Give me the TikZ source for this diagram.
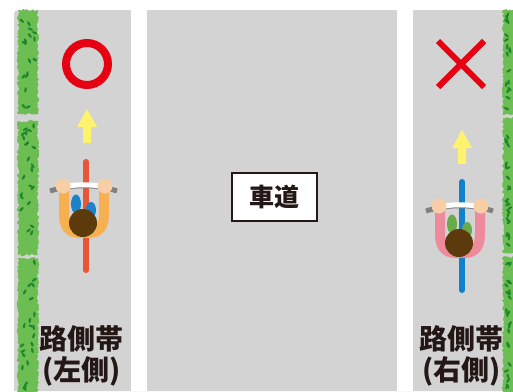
\documentclass[tikz,border=0pt]{standalone}
\usepackage{fontspec}
\newfontfamily\jpfont{Noto Sans CJK JP}
\usetikzlibrary{decorations.pathmorphing}

\definecolor{roadgray}{RGB}{211,211,211}
\definecolor{hedgegreen}{RGB}{108,190,82}
\definecolor{leafgreen}{RGB}{30,135,45}
\definecolor{okred}{RGB}{230,0,18}
\definecolor{arrowyellow}{RGB}{255,243,110}
\definecolor{skin}{RGB}{248,206,166}
\definecolor{hair}{RGB}{92,58,12}
\definecolor{gripgray}{RGB}{128,128,128}
\definecolor{frameorange}{RGB}{233,85,55}
\definecolor{shirtorange}{RGB}{246,176,80}
\definecolor{legblue}{RGB}{30,130,200}
\definecolor{frameblue}{RGB}{16,130,205}
\definecolor{shirtpink}{RGB}{237,138,155}
\definecolor{leggreen}{RGB}{105,170,75}
\definecolor{labelblack}{RGB}{35,24,21}

\begin{document}
\begin{tikzpicture}[x=1pt, y=-1pt,
  hedgebody/.style={fill=hedgegreen, decorate, decoration={random steps, segment length=1.8pt, amplitude=1.2pt}},
  leaf/.style={fill=leafgreen},
  stripe/.style={fill=white},
  goarrow/.style={fill=arrowyellow},
  sidelbl/.style={font=\jpfont\bfseries\fontsize{28}{31}\selectfont, text=labelblack, align=center, inner sep=0pt},
  roadlbl/.style={draw=labelblack, fill=white, line width=1.2pt, minimum width=85pt, minimum height=48pt, font=\jpfont\bfseries\fontsize{25}{30}\selectfont, text=labelblack},
  pics/rider/.style n args={3}{code={
    % frame, bar, legs, arms, head, hands
    \draw[#1, line width=6pt, line cap=round] (2,-26) -- (2,82);
    \draw[gripgray, line width=5pt] (-34,3) .. controls (-12,-4) and (12,-4) .. (33,3);
    \draw[white, line width=5pt] (-20,-1) .. controls (-8,-4) and (8,-4) .. (20,-1);
    \fill[#3] (-8,16) ellipse (5 and 9.5);
    \fill[#3] (7,22) ellipse (5 and 8);
    \draw[#2, line width=10pt, line cap=round] (-20,0) -- (-20,25) .. controls (-20,45) and (-10,45) .. (0,45) .. controls (10,45) and (20,45) .. (20,25) -- (20,0);
    \fill[hair] (-1,35) circle (14);
    \fill[skin] (-21,-2) circle (7.5);
    \fill[skin] (21,-2) circle (7.5);
  }},
]
\useasboundingbox (0,0) rectangle (513,391);

% road surface and white lines
\fill[roadgray] (14,391) [rounded corners=4pt] -- (14,10) [sharp corners] -- (513,10) -- (513,391) -- cycle;
\fill[stripe] (131,10) rectangle (147,391);
\fill[stripe] (397,10) rectangle (413,391);

% hedges
\pgfmathsetseed{12}
\foreach \xa/\xb/\ya/\yb in {18/38/10/114, 18/38/121/255, 18/38/258/395, 503/520/10/115, 503/520/118/253, 503/520/257/395} {
  \fill[hedgebody] (\xa,\ya) rectangle (\xb,\yb);
  \pgfmathtruncatemacro\nleaf{(\yb-\ya)/6}
  \foreach \k in {1,...,\nleaf} {
    \pgfmathsetmacro\lx{\xa+3+rnd*(min(\xb,513)-\xa-6)}
    \pgfmathsetmacro\ly{\ya+4+rnd*(\yb-\ya-8)}
    \pgfmathsetmacro\la{20+rnd*140}
    \fill[leaf, rotate around={\la:(\lx,\ly)}] (\lx,\ly) ellipse (2.8 and 1.2);
  }
}

% ok / ng marks
\draw[okred, line width=8pt] (87,64) circle (21);
\draw[okred, line width=6pt] (438,41) -- (484,87);
\draw[okred, line width=6pt] (484,41) -- (438,87);

% direction of travel
\foreach \ax/\ay in {87/109, 462/130}
  \fill[goarrow, shift={(\ax,\ay)}] (0,0) -- (10,18) -- (4,18) -- (4,34) -- (-4,34) -- (-4,18) -- (-10,18) -- cycle;

% riders
\pic at (84,188) {rider={frameorange}{shirtorange}{legblue}};
\pic at (460,208) {rider={frameblue}{shirtpink}{leggreen}};

% labels
\node[roadlbl] (road) at (274.5,197) {車道};
\node[sidelbl] (leftlane) at (81.5,356) {路側帯\\(左側)};
\node[sidelbl] (rightlane) at (461.5,356) {路側帯\\(右側)};
\end{tikzpicture}
\end{document}
